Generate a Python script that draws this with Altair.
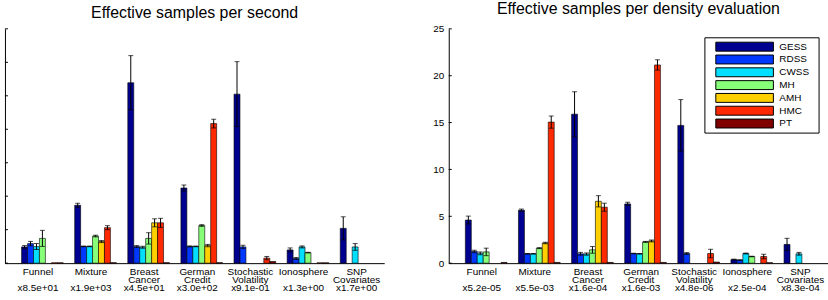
import altair as alt
import pandas as pd

FONT = "Liberation Sans"

# benchmark problems, drawn as two-line names plus a per-problem scale factor
groups = ["Funnel", "Mixture", "Breast Cancer", "German Credit",
          "Stochastic Volatility", "Ionosphere", "SNP Covariates"]
name_line1 = ["Funnel", "Mixture", "Breast", "German", "Stochastic", "Ionosphere", "SNP"]
name_line2 = ["\u200b", "\u200b", "Cancer", "Credit", "Volatility", "\u200b", "Covariates"]

methods = ["GESS", "RDSS", "CWSS", "MH", "AMH", "HMC", "PT"]
method_colors = ["#000090", "#0038FF", "#00DFFF", "#87FF78", "#FFCF00", "#FF2900", "#800000"]

# ---- effective samples per second (relative, times the factor under each name)
sec_factor = ["x8.5e+01", "x1.9e+03", "x4.5e+01", "x3.0e+02", "x9.1e-01", "x1.3e+00", "x1.7e+00"]
sec_gess = [0.97, 3.46, 10.78, 4.49, 10.10, 0.79, 2.08]
sec_gess_err = [0.08, 0.12, 1.62, 0.18, 1.94, 0.12, 0.69]
sec_rdss = [1.17, 1.00, 0.99, 1.00, 0.97, 0.28, None]
sec_rdss_err = [0.13, 0.02, 0.06, 0.03, 0.10, 0.06, 0.0]
sec_cwss = [0.99, 1.00, 0.95, 1.00, None, 0.97, 0.97]
sec_cwss_err = [0.18, 0.02, 0.06, 0.02, 0.0, 0.06, 0.20]
sec_mh = [1.48, 1.62, 1.48, 2.25, None, 0.63, None]
sec_mh_err = [0.48, 0.05, 0.34, 0.05, 0.0, 0.02, 0.0]
sec_amh = [None, 1.29, 2.41, 1.05, None, None, None]
sec_amh_err = [0.0, 0.06, 0.24, 0.07, 0.0, 0.0, 0.0]
sec_hmc = [0.02, 2.12, 2.41, 8.34, 0.30, 0.02, None]
sec_hmc_err = [0.0, 0.12, 0.27, 0.26, 0.10, 0.0, 0.0]
sec_pt = [0.02, 0.03, 0.03, 0.03, 0.10, 0.02, None]
sec_pt_err = [0.0, 0.0, 0.0, 0.0, 0.0, 0.0, 0.0]

# ---- effective samples per density evaluation
ev_factor = ["x5.2e-05", "x5.5e-03", "x1.6e-04", "x1.6e-03", "x4.8e-06", "x2.5e-04", "x8.3e-04"]
ev_gess = [4.60, 5.65, 15.90, 6.32, 14.70, 0.38, 2.00]
ev_gess_err = [0.42, 0.12, 2.40, 0.18, 2.75, 0.05, 0.65]
ev_rdss = [1.25, 1.00, 1.00, 1.03, 1.03, 0.33, None]
ev_rdss_err = [0.13, 0.03, 0.15, 0.03, 0.10, 0.03, 0.0]
ev_cwss = [1.05, 1.00, 0.97, 1.00, None, 1.03, 1.00]
ev_cwss_err = [0.15, 0.03, 0.12, 0.03, 0.0, 0.05, 0.15]
ev_mh = [1.20, 1.60, 1.42, 2.27, None, 0.71, None]
ev_mh_err = [0.40, 0.05, 0.36, 0.05, 0.0, 0.03, 0.0]
ev_amh = [None, 2.15, 6.60, 2.37, None, None, None]
ev_amh_err = [0.0, 0.08, 0.60, 0.10, 0.0, 0.0, 0.0]
ev_hmc = [None, 15.05, 5.97, 21.15, 1.03, 0.71, None]
ev_hmc_err = [0.0, 0.65, 0.43, 0.55, 0.45, 0.24, 0.0]
ev_pt = [0.08, 0.08, 0.08, 0.08, 0.12, 0.05, None]
ev_pt_err = [0.0, 0.0, 0.0, 0.0, 0.0, 0.0, 0.0]

sec_ticks = [0, 2, 4, 6, 8, 10, 12, 14]
ev_ticks = [0, 5, 10, 15, 20, 25]

color_scale = alt.Scale(domain=methods, range=method_colors)


def build_frame(series, errors, factors):
    labels = [f"{a}|{b}|{f}" for a, b, f in zip(name_line1, name_line2, factors)]
    rows = []
    for gi, lab in enumerate(labels):
        for m in methods:
            v = series[m][gi]
            if v is None:
                continue
            e = errors[m][gi]
            rows.append({"label": lab, "method": m, "value": v,
                         "lo": v - e, "hi": v + e, "err": e})
    return labels, pd.DataFrame(rows)


def panel(series, errors, factors, ymax, ticks, show_labels):
    labels, df = build_frame(series, errors, factors)
    base = alt.Chart(df)

    x = alt.X("label:N", sort=labels,
              scale=alt.Scale(domain=labels, paddingInner=0.215,
                              paddingOuter=0.1776, align=0.88),
              axis=alt.Axis(title=None, labelExpr="split(datum.label, '|')",
                            labelAngle=0, labelFontSize=10, labelFont=FONT,
                            labelLineHeight=8.2, labelColor="black",
                            ticks=False, domainColor="black", domainWidth=1,
                            labelPadding=3.5, labelOffset=-4.5))
    xo = alt.XOffset("method:N", sort=methods,
                     scale=alt.Scale(domain=methods, paddingInner=0, paddingOuter=0))
    yscale = alt.Scale(domain=[0, ymax], nice=False, zero=True)
    y = alt.Y("value:Q", scale=yscale,
              axis=alt.Axis(title=None, labels=show_labels, ticks=False, grid=False,
                            values=ticks, domainColor="black", domainWidth=1,
                            labelFontSize=10, labelFont=FONT, labelColor="black",
                            labelPadding=5))

    bars = base.mark_bar(stroke="black", strokeWidth=0.6).encode(
        x=x, xOffset=xo, y=y,
        color=alt.Color("method:N", scale=color_scale, legend=None),
    )

    whisk = base.transform_filter("datum.err > 0").mark_rule(
        color="black", strokeWidth=1).encode(
        x=x, xOffset=xo, y=alt.Y("lo:Q", scale=yscale), y2="hi:Q")

    caps = base.transform_filter("datum.err > 0").transform_fold(
        ["lo", "hi"], as_=["end", "pos"]).mark_tick(
        color="black", thickness=1, size=5).encode(
        x=x, xOffset=xo, y=alt.Y("pos:Q", scale=yscale))

    # tick marks drawn on the inner side of the value axis
    tick_df = pd.DataFrame({"t": ticks})
    inward = alt.Chart(tick_df).mark_rule(color="black", strokeWidth=1).encode(
        y=alt.Y("t:Q", scale=yscale), x=alt.value(0), x2=alt.value(3))

    return alt.layer(bars, whisk, caps, inward)


def method_key():
    key_df = pd.DataFrame({"method": methods})
    frame = alt.Chart(pd.DataFrame({"k": [0]})).mark_rect(
        fill="white", stroke="black", strokeWidth=1).encode(
        x=alt.value(258), x2=alt.value(373), y=alt.value(9), y2=alt.value(105))
    key_y = alt.Y("method:N", sort=methods,
                  scale=alt.Scale(domain=methods, range=[11.5, 101.8],
                                  paddingInner=0, paddingOuter=0),
                  axis=None)
    swatches = alt.Chart(key_df).mark_bar(
        height=9, stroke="black", strokeWidth=1).encode(
        y=key_y, x=alt.value(269), x2=alt.value(327),
        color=alt.Color("method:N", scale=color_scale, legend=None))
    names = alt.Chart(key_df).mark_text(
        align="left", baseline="middle", fontSize=10, font=FONT, color="black").encode(
        y=key_y, x=alt.value(333), text="method:N")
    return alt.layer(frame, alt.layer(swatches, names))


per_second = dict(zip(methods, [sec_gess, sec_rdss, sec_cwss, sec_mh, sec_amh, sec_hmc, sec_pt]))
per_second_err = dict(zip(methods, [sec_gess_err, sec_rdss_err, sec_cwss_err, sec_mh_err,
                                    sec_amh_err, sec_hmc_err, sec_pt_err]))
per_eval = dict(zip(methods, [ev_gess, ev_rdss, ev_cwss, ev_mh, ev_amh, ev_hmc, ev_pt]))
per_eval_err = dict(zip(methods, [ev_gess_err, ev_rdss_err, ev_cwss_err, ev_mh_err,
                                  ev_amh_err, ev_hmc_err, ev_pt_err]))


def titled(chart, text):
    return chart.properties(
        width=382, height=236,
        title=alt.TitleParams(text, fontSize=16, font=FONT, fontWeight="normal",
                              color="black", anchor="middle", offset=7),
    )


left = titled(panel(per_second, per_second_err, sec_factor, 14, sec_ticks, False),
              "Effective samples per second")
right = titled(
    alt.layer(panel(per_eval, per_eval_err, ev_factor, 25, ev_ticks, True),
              method_key()).resolve_scale(y="independent"),
    "Effective samples per density evaluation")

chart = alt.hconcat(left, right, spacing=48).properties(
    padding={"left": 4, "top": 0, "right": 0, "bottom": 0},
    background="white",
).configure_view(stroke=None)

chart.save("out.html", embed_options={"renderer": "svg", "actions": False})
